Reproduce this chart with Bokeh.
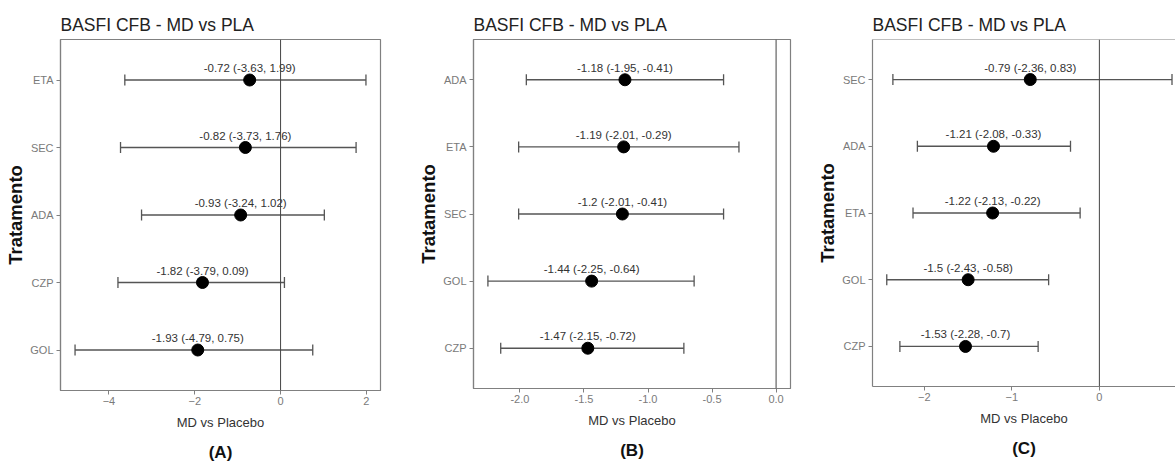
import math
from bokeh.plotting import figure
from bokeh.models import (Range1d, FactorRange, FixedTicker, Span, Title, ColumnDataSource,
                          PrintfTickFormatter)
from bokeh.layouts import row
from bokeh.embed import file_html
from bokeh.resources import INLINE
from bokeh.core.properties import value

# ---------------- data ----------------
title_text = "BASFI CFB - MD vs PLA"
x_label = "MD vs Placebo"
y_label = "Tratamento"

# Panel A (top to bottom)
treat_a = ["ETA", "SEC", "ADA", "CZP", "GOL"]
md_a = [-0.72, -0.82, -0.93, -1.82, -1.93]
lo_a = [-3.63, -3.73, -3.24, -3.79, -4.79]
hi_a = [1.99, 1.76, 1.02, 0.09, 0.75]
ticks_a = [-4, -2, 0, 2]

# Panel B
treat_b = ["ADA", "ETA", "SEC", "GOL", "CZP"]
md_b = [-1.18, -1.19, -1.2, -1.44, -1.47]
lo_b = [-1.95, -2.01, -2.01, -2.25, -2.15]
hi_b = [-0.41, -0.29, -0.41, -0.64, -0.72]
ticks_b = [-2.0, -1.5, -1.0, -0.5, 0.0]

# Panel C
treat_c = ["SEC", "ADA", "ETA", "GOL", "CZP"]
md_c = [-0.79, -1.21, -1.22, -1.5, -1.53]
lo_c = [-2.36, -2.08, -2.13, -2.43, -2.28]
hi_c = [0.83, -0.33, -0.22, -0.58, -0.7]
ticks_c = [-2, -1, 0]

panel_tags = ["(A)", "(B)", "(C)"]

FONT = "Liberation Sans"
FRAME_COL = "#808080"
ERR_COL = "#555555"
Y_PAD = 0.1  # per side, in category units
TOP = 39
BOTTOM = 75


def make_panel(treat, md, lo, hi, ticks, tag, left, fw, right, fh,
               x_end=None, crop_right=False, tick_fmt=None):
    lab = [f"{m} ({l}, {h})" for m, l, h in zip(md, lo, hi)]
    src = ColumnDataSource(dict(t=treat, md=md, lo=lo, hi=hi, lab=lab))
    xmin = min(min(lo), 0)
    xmax = max(max(hi), 0)
    pad = 0.05 * (xmax - xmin)
    end = xmax + pad if x_end is None else x_end
    p = figure(
        x_range=Range1d(xmin - pad, end),
        y_range=FactorRange(factors=list(reversed(treat)), range_padding=Y_PAD,
                            range_padding_units="absolute"),
        frame_width=fw, frame_height=fh,
        min_border_left=left, min_border_right=right,
        min_border_top=TOP, min_border_bottom=BOTTOM,
        output_backend="svg", toolbar_location=None,
        title=title_text, background_fill_color="white",
        border_fill_color="white",
    )
    p.title.text_font = FONT
    p.title.text_font_size = "17.5px"
    p.title.text_font_style = "normal"
    p.title.text_color = "#222222"
    p.title.standoff = 10
    p.title.align = "left"

    p.xgrid.visible = False
    p.ygrid.visible = False
    if crop_right:
        p.outline_line_color = None
        p.add_layout(Span(location=len(treat) + Y_PAD, dimension="width",
                          line_color=FRAME_COL, line_width=1.2))
    else:
        p.outline_line_color = FRAME_COL
        p.outline_line_width = 1.2

    p.add_layout(Span(location=0, dimension="height", line_color="#444444", line_width=1))

    p.segment(x0="lo", y0="t", x1="hi", y1="t", source=src, line_color=ERR_COL, line_width=1.3)
    p.scatter(x="lo", y="t", source=src, marker="dash", angle=math.pi / 2, size=11,
              line_color=ERR_COL, line_width=1.3)
    p.scatter(x="hi", y="t", source=src, marker="dash", angle=math.pi / 2, size=11,
              line_color=ERR_COL, line_width=1.3)
    p.scatter(x="md", y="t", source=src, size=12, fill_color="black", line_color="black")
    p.text(x="md", y="t", text="lab", source=src, y_offset=-12, text_align="center",
           text_baseline="middle", text_font=value(FONT), text_font_size="11.5px",
           text_color="#333333")

    p.xaxis.ticker = FixedTicker(ticks=ticks, minor_ticks=[])
    if tick_fmt:
        p.xaxis.formatter = PrintfTickFormatter(format=tick_fmt)
    for ax in (p.xaxis[0], p.yaxis[0]):
        ax.axis_line_color = FRAME_COL
        ax.axis_line_width = 1.2
        ax.major_tick_line_color = FRAME_COL
        ax.major_tick_in = 0
        ax.major_tick_out = 4
        ax.minor_tick_out = 0
        ax.minor_tick_in = 0
        ax.major_label_text_font = FONT
        ax.major_label_text_font_size = "11px"
        ax.major_label_text_color = "#7a7a7a"
        ax.major_label_standoff = 3
    p.xaxis.major_label_standoff = 2
    p.xaxis.axis_label = x_label
    p.xaxis.axis_label_text_font = FONT
    p.xaxis.axis_label_text_font_size = "13px"
    p.xaxis.axis_label_text_font_style = "normal"
    p.xaxis.axis_label_text_color = "#333333"
    p.xaxis.axis_label_standoff = 7
    p.yaxis.axis_label = y_label
    p.yaxis.axis_label_text_font = FONT
    p.yaxis.axis_label_text_font_size = "18.5px"
    p.yaxis.axis_label_text_font_style = "bold"
    p.yaxis.axis_label_text_color = "#111111"
    p.yaxis.axis_label_standoff = 1

    p.add_layout(Title(text=tag, align="center", text_font=FONT, text_font_size="17px",
                       text_font_style="bold", text_color="#111111", standoff=16), "below")
    return p


pA = make_panel(treat_a, md_a, lo_a, hi_a, ticks_a, panel_tags[0],
                left=60, fw=320, right=20, fh=351)
pB = make_panel(treat_b, md_b, lo_b, hi_b, ticks_b, panel_tags[1],
                left=73, fw=317, right=20, fh=349, tick_fmt="%.1f")
pC = make_panel(treat_c, md_c, lo_c, hi_c, ticks_c, panel_tags[2],
                left=62, fw=303, right=0, fh=347, x_end=0.87, crop_right=True)

layout = row(pA, pB, pC, spacing=0)
open("out.html", "w").write(file_html(layout, INLINE))
